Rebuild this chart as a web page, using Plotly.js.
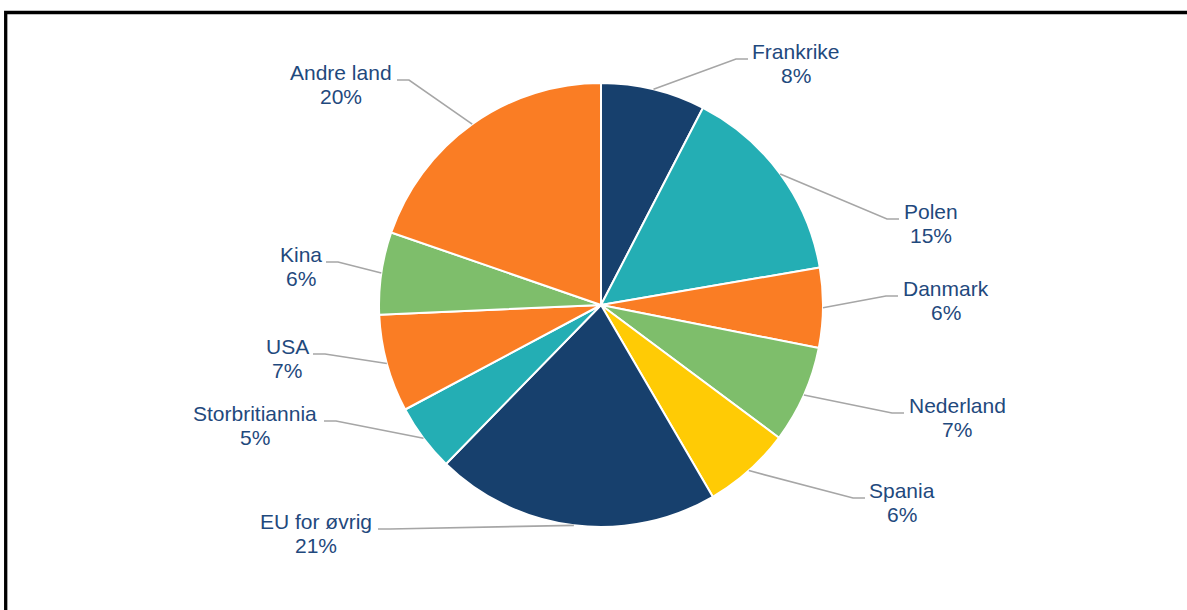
<!DOCTYPE html>
<html>
<head>
<meta charset="utf-8">
<script src="https://cdn.plot.ly/plotly-3.0.1.min.js"></script>
<style>
html,body{margin:0;padding:0;background:#fff;}
#chart{width:1187px;height:610px;}
</style>
</head>
<body>
<div id="chart"></div>
<script>
// ---- data ----
const countries = ["Frankrike","Polen","Danmark","Nederland","Spania","EU for øvrig","Storbritiannia","USA","Kina","Andre land"];
const shares = [7.6, 14.7, 5.8, 7.1, 6.4, 20.7, 4.9, 7.1, 6.0, 19.7];
const sliceColors = ["#17406D","#24AEB4","#FA7D24","#7EBE6B","#FFCB05","#17406D","#24AEB4","#FA7D24","#7EBE6B","#FA7D24"];

// ---- layout (label placement, px) ----
const W = 1187, H = 610;
const pieCx = 601, pieCy = 305, pieR = 222;
// label centre x, first-line baseline y, leader attach x, side
const labelPlace = [
  {cx:796, base:59,  att:748, side:"r"},
  {cx:931, base:219, att:899, side:"r"},
  {cx:946, base:296, att:898, side:"r"},
  {cx:957, base:413, att:904, side:"r"},
  {cx:902, base:498, att:865, side:"r"},
  {cx:316, base:529, att:378, side:"l"},
  {cx:255, base:421, att:324, side:"l"},
  {cx:287, base:354, att:313, side:"l"},
  {cx:301, base:262, att:326, side:"l"},
  {cx:341, base:80,  att:397, side:"l"}
];
const fontSize = 21;
const textColor = "#1F497D";

const px = x => x / W;
const py = y => 1 - y / H;

const total = shares.reduce((a,b)=>a+b,0);
const annotations = [];
const shapes = [];
let cum = 0;
shares.forEach((v,i)=>{
  const mid = (cum + v/2) / total * 2 * Math.PI;
  cum += v;
  const sx = pieCx + pieR * Math.sin(mid);
  const sy = pieCy - pieR * Math.cos(mid);
  const L = labelPlace[i];
  const ex = L.side === "r" ? L.att - 12 : L.att + 12;
  const pct = Math.round(v / total * 100) + "%";
  shapes.push({
    type:"path", xref:"paper", yref:"paper",
    path:`M ${px(sx)},${py(sy)} L ${px(ex)},${py(L.base)} L ${px(L.att)},${py(L.base)}`,
    line:{color:"#A6A6A6", width:1.6}
  });
  [countries[i], pct].forEach((t,k)=>{
    annotations.push({
      text:t, xref:"paper", yref:"paper",
      x:px(L.cx), y:py(L.base + 24*k - 0.35*fontSize),
      xanchor:"center", yanchor:"middle", showarrow:false,
      font:{family:"Liberation Sans, Arial, sans-serif", size:fontSize, color:textColor}
    });
  });
});

// frame (top and left edges)
shapes.push({
  type:"path", xref:"paper", yref:"paper",
  path:`M ${px(5.7)},${py(H+5)} L ${px(5.7)},${py(12.5)} L ${px(W+5)},${py(12.5)}`,
  line:{color:"#000", width:3.3}
});

const trace = {
  type:"pie",
  labels:countries,
  values:shares,
  sort:false,
  direction:"clockwise",
  rotation:0,
  textinfo:"none",
  hoverinfo:"none",
  marker:{colors:sliceColors, line:{color:"#FFFFFF", width:2}},
  domain:{x:[(pieCx-pieR)/W,(pieCx+pieR)/W], y:[1-(pieCy+pieR)/H, 1-(pieCy-pieR)/H]},
  showlegend:false
};

Plotly.newPlot("chart",[trace],{
  width:W, height:H,
  margin:{l:0,r:0,t:0,b:0},
  paper_bgcolor:"#fff",
  showlegend:false,
  annotations:annotations,
  shapes:shapes
},{displayModeBar:false, staticPlot:true});
</script>
</body>
</html>
